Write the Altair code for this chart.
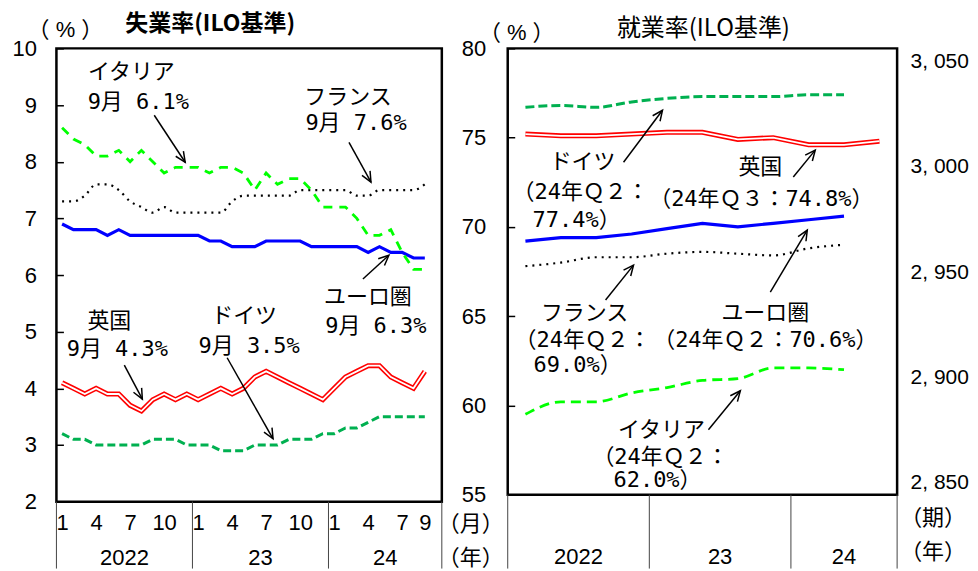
import math
import altair as alt
import pandas as pd

# ---------------- data ----------------
# Left panel: unemployment rate (ILO), monthly Jan 2022 .. Sep 2024
month_index = list(range(33))
month_ticks = [0, 3, 6, 9, 12, 15, 18, 21, 24, 27, 30, 32]
u_ea = [6.9, 6.8, 6.8, 6.8, 6.7, 6.8, 6.7, 6.7, 6.7, 6.7, 6.7, 6.7, 6.7, 6.6, 6.6, 6.5, 6.5,
        6.5, 6.6, 6.6, 6.6, 6.6, 6.5, 6.5, 6.5, 6.5, 6.5, 6.4, 6.5, 6.4, 6.4, 6.3, 6.3]
u_fr = [7.3, 7.3, 7.4, 7.6, 7.6, 7.5, 7.3, 7.2, 7.1, 7.2, 7.1, 7.1, 7.1, 7.1, 7.1, 7.3, 7.4,
        7.4, 7.4, 7.4, 7.4, 7.5, 7.5, 7.5, 7.5, 7.5, 7.4, 7.4, 7.5, 7.5, 7.5, 7.5, 7.6]
u_it = [8.6, 8.4, 8.3, 8.1, 8.1, 8.2, 8.0, 8.2, 8.0, 7.8, 7.9, 7.9, 7.9, 7.8, 7.9, 7.9, 7.8,
        7.5, 7.8, 7.6, 7.7, 7.7, 7.5, 7.2, 7.2, 7.2, 7.0, 6.7, 6.7, 6.8, 6.4, 6.1, 6.1]
u_de = [3.2, 3.1, 3.1, 3.0, 3.0, 3.0, 3.0, 3.0, 3.1, 3.1, 3.1, 3.0, 3.0, 3.0, 2.9, 2.9, 2.9,
        3.0, 3.0, 3.0, 3.1, 3.1, 3.1, 3.2, 3.2, 3.3, 3.3, 3.4, 3.5, 3.5, 3.5, 3.5, 3.5]
u_uk = [4.1, 4.0, 3.9, 4.0, 3.9, 3.9, 3.7, 3.6, 3.8, 3.9, 3.8, 3.9, 3.8, 3.9, 4.0, 3.9, 4.0,
        4.2, 4.3, 4.2, 4.1, 4.0, 3.9, 3.8, 4.0, 4.2, 4.3, 4.4, 4.4, 4.2, 4.1, 4.0, 4.3]
left_y_ticks = [2, 3, 4, 5, 6, 7, 8, 9, 10]
left_year_mid = [5.5, 17.5, 28.5]
left_year_edges = [-0.5, 11.5, 23.5, 33.5]
year_names = ["2022", "23", "24"]

# Right panel: employment rate (ILO), quarterly 2022Q1 .. 2024Q3
quarter_index = list(range(11))
e_de = [76.7, 76.8, 76.7, 77.0, 77.2, 77.3, 77.3, 77.3, 77.4, 77.4]
e_uk = [75.2, 75.1, 75.1, 75.2, 75.3, 75.3, 74.9, 75.0, 74.6, 74.6, 74.8]
e_ea = [69.2, 69.4, 69.4, 69.6, 69.9, 70.2, 70.0, 70.2, 70.4, 70.6]
e_fr = [67.8, 68.0, 68.3, 68.3, 68.5, 68.6, 68.5, 68.4, 68.8, 69.0]
e_it = [59.5, 60.2, 60.2, 60.7, 61.0, 61.4, 61.5, 62.1, 62.1, 62.0]
right_y_ticks = [55, 60, 65, 70, 75, 80]
right_axis_values = [2850, 2900, 2950, 3000, 3050]
right_year_mid = [1.5, 5.5, 9.0]
right_year_edges = [-0.5, 3.5, 7.5, 10.5]

# Annotations (data units)
left_ann_text = ["イタリア", "9月 6.1%", "フランス", "9月 7.6%", "ユーロ圏", "9月 6.3%",
                 "英国", "9月 4.3%", "ドイツ", "9月 3.5%"]
left_ann_x = [6.11, 6.72, 25.22, 25.93, 26.98, 27.68, 4.17, 4.87, 16.06, 16.50]
left_ann_y = [9.58, 9.05, 9.15, 8.68, 5.61, 5.10, 5.19, 4.70, 5.28, 4.75]
left_arrow_x1 = [8.13, 25.31, 26.54, 5.49, 14.56]
left_arrow_y1 = [8.82, 8.34, 5.93, 4.41, 4.54]
left_arrow_x2 = [10.86, 27.25, 28.83, 7.08, 18.61]
left_arrow_y2 = [7.99, 7.64, 6.35, 3.81, 3.11]

right_ann_text = ["ドイツ", "（24年Ｑ２：", "77.4%）", "英国", "（24年Ｑ３：74.8%）",
                  "フランス", "（24年Ｑ２：", "69.0%）", "ユーロ圏", "（24年Ｑ２：70.6%）",
                  "イタリア", "（24年Ｑ２：", "62.0%）"]
right_ann_x = [1.615, 1.559, 1.446, 6.636, 6.664, 1.672, 1.615, 1.474, 6.777, 6.777,
               3.844, 3.815, 3.731]
right_ann_y = [73.62, 71.95, 70.38, 73.34, 71.55, 65.18, 63.67, 62.27, 65.18, 63.67,
               58.64, 57.13, 55.84]
right_arrow_x1 = [2.772, 7.567, 2.264, 6.918, 5.17]
right_arrow_y1 = [73.62, 72.79, 65.91, 66.35, 58.64]
right_arrow_x2 = [3.872, 8.187, 3.054, 7.962, 6.072]
right_arrow_y2 = [76.53, 74.30, 67.86, 69.82, 60.82]

# ---------------- styling ----------------
JP = "Noto Sans CJK JP"
LAT = "Liberation Sans"
ANN = "DejaVu Sans Mono, Noto Sans CJK JP"
BLUE, RED, BLACK = "#0000FF", "#FF0000", "#000000"
LIME, GREEN = "#00FF00", "#00B050"

LW, LH = 386, 454
RW, RH = 390, 447
L_DOM_X, L_DOM_Y = [-0.5, 33.5], [2, 10]
R_DOM_X, R_DOM_Y = [-0.5, 10.5], [55, 80]

lx_scale = alt.Scale(domain=L_DOM_X, nice=False, zero=False)
ly_scale = alt.Scale(domain=L_DOM_Y, nice=False, zero=False)
rx_scale = alt.Scale(domain=R_DOM_X, nice=False, zero=False)
ry_scale = alt.Scale(domain=R_DOM_Y, nice=False, zero=False)

lx_axis = alt.Axis(values=month_ticks, labelExpr="(datum.value % 12) + 1", ticks=False,
                   domain=False, grid=False, labelFont=LAT, labelFontSize=22,
                   labelColor=BLACK, labelPadding=11, labelFlush=False,
                   labelOverlap=False, title=None)
ly_axis = alt.Axis(values=left_y_ticks, offset=-7, tickSize=7, tickColor=BLACK,
                   tickWidth=1.5, domain=False, grid=False, labelFont=LAT,
                   labelFontSize=22, labelColor=BLACK, labelPadding=20,
                   labelOverlap=False, title=None)
ry_axis = alt.Axis(values=right_y_ticks, offset=-7, tickSize=7, tickColor=BLACK,
                   tickWidth=1.5, domain=False, grid=False, labelFont=LAT,
                   labelFontSize=22, labelColor=BLACK, labelPadding=22,
                   labelOverlap=False, title=None)


def LX(f):
    return alt.X(f"{f}:Q", scale=lx_scale, axis=lx_axis)


def LY(f):
    return alt.Y(f"{f}:Q", scale=ly_scale, axis=ly_axis)


def RX(f):
    return alt.X(f"{f}:Q", scale=rx_scale, axis=None)


def RY(f):
    return alt.Y(f"{f}:Q", scale=ry_scale, axis=ry_axis)


def series_line(xs, ys, X, Y, color, width, dash=None, interp="linear"):
    df = pd.DataFrame({"x": xs[:len(ys)], "v": ys})
    kw = dict(color=color, strokeWidth=width, interpolate=interp)
    if dash:
        kw["strokeDash"] = dash
    return alt.Chart(df).mark_line(**kw).encode(x=X("x"), y=Y("v"))


def arrows(x1, y1, x2, y2, X, Y, sx, sy):
    ang = [math.degrees(math.atan2((b - a) * sx, (d - c) * sy)) % 360
           for a, b, c, d in zip(x1, x2, y1, y2)]
    df = pd.DataFrame({"x1": x1, "y1": y1, "x2": x2, "y2": y2, "ang": ang})
    shaft = alt.Chart(df).mark_rule(color=BLACK, strokeWidth=1.5).encode(
        x=X("x1"), y=Y("y1"), x2="x2:Q", y2="y2:Q")
    head = alt.Chart(df).mark_point(shape="M-0.45,1 L0,0 L0.45,1", filled=False,
                                    stroke=BLACK, strokeWidth=1.5, opacity=1,
                                    size=420).encode(
        x=X("x2"), y=Y("y2"), angle=alt.Angle("ang:Q", scale=None))
    return shaft + head


def ann_text(texts, xs, ys, X, Y, size=22):
    df = pd.DataFrame({"t": texts, "x": xs, "y": ys})
    return alt.Chart(df).mark_text(font=ANN, fontSize=size, color=BLACK,
                                   align="center", baseline="middle").encode(
        x=X("x"), y=Y("y"), text="t:N")


def free_text(t, px, py, size=22, font=JP, weight="normal"):
    return alt.Chart(pd.DataFrame({"t": [t]})).mark_text(
        font=font, fontSize=size, fontWeight=weight, color=BLACK,
        align="center", baseline="middle").encode(
        text="t:N", x=alt.value(px), y=alt.value(py))


def separators(edges, X, h, bottom):
    df = pd.DataFrame({"e": edges})
    return alt.Chart(df).mark_rule(color="#444444", strokeWidth=1).encode(
        x=X("e"), y=alt.value(h), y2=alt.value(bottom))


def year_labels(mids, X, py):
    df = pd.DataFrame({"m": mids, "t": year_names})
    return alt.Chart(df).mark_text(font=LAT, fontSize=22, color=BLACK,
                                   baseline="middle").encode(
        x=X("m"), y=alt.value(py), text="t:N")


# ---------------- left panel ----------------
lsx = LW / (L_DOM_X[1] - L_DOM_X[0])
lsy = LH / (L_DOM_Y[1] - L_DOM_Y[0])
left = alt.layer(
    separators(left_year_edges, LX, LH, 521),
    year_labels(left_year_mid, LX, 510),
    series_line(month_index, u_fr, LX, LY, BLACK, 2.2, [2, 5], "monotone"),
    series_line(month_index, u_ea, LX, LY, BLUE, 3.2),
    series_line(month_index, u_it, LX, LY, LIME, 2.8, [9, 7]),
    series_line(month_index, u_de, LX, LY, GREEN, 3, [8, 4]),
    series_line(month_index, u_uk, LX, LY, RED, 5),
    series_line(month_index, u_uk, LX, LY, "#FFFFFF", 1.8),
    arrows(left_arrow_x1, left_arrow_y1, left_arrow_x2, left_arrow_y2, LX, LY, lsx, lsy),
    ann_text(left_ann_text, left_ann_x, left_ann_y, LX, LY),
    free_text("失業率(ILO基準)", 154, -24, 23, JP, "bold"),
    free_text("（ % ）", 9, -18, 22, "Liberation Sans, Noto Sans CJK JP"),
    free_text("（月）", 415, 476, 22),
    free_text("（年）", 415, 510, 22),
).properties(width=LW, height=LH)

# ---------------- right panel ----------------
rsx = RW / (R_DOM_X[1] - R_DOM_X[0])
rsy = RH / (R_DOM_Y[1] - R_DOM_Y[0])
right_main = alt.layer(
    separators(right_year_edges, RX, RH, 521),
    year_labels(right_year_mid, RX, 509),
    series_line(quarter_index, e_fr, RX, RY, BLACK, 2.2, [2, 5], "monotone"),
    series_line(quarter_index, e_ea, RX, RY, BLUE, 3.2),
    series_line(quarter_index, e_it, RX, RY, LIME, 2.8, [10, 6], "monotone"),
    series_line(quarter_index, e_de, RX, RY, GREEN, 3, [9, 4], "monotone"),
    series_line(quarter_index, e_uk, RX, RY, RED, 5),
    series_line(quarter_index, e_uk, RX, RY, "#FFFFFF", 1.8),
    arrows(right_arrow_x1, right_arrow_y1, right_arrow_x2, right_arrow_y2, RX, RY, rsx, rsy),
    ann_text(right_ann_text, right_ann_x, right_ann_y, RX, RY),
    free_text("就業率(ILO基準)", 196, -19, 24, JP),
    free_text("（ % ）", 9, -15, 22, "Liberation Sans, Noto Sans CJK JP"),
    free_text("（期）", 426, 470, 22),
    free_text("（年）", 426, 504, 22),
)

right_axis = alt.Chart(pd.DataFrame({"v": right_axis_values})).mark_point(opacity=0).encode(
    y=alt.Y("v:Q", scale=alt.Scale(domain=[2844.31, 3056.16], nice=False, zero=False),
            axis=alt.Axis(orient="right", values=right_axis_values, ticks=False,
                          domain=False, grid=False, labelFont=LAT, labelFontSize=21,
                          labelColor=BLACK, labelPadding=13, labelOverlap=False,
                          labelExpr="replace(format(datum.value, ','), ',', ', ')",
                          title=None))
)

right = alt.layer(right_main, right_axis).resolve_scale(y="independent").properties(
    width=RW, height=RH)

chart = alt.hconcat(left, right, spacing=66, bounds="flush").properties(
    padding={"left": 2.5, "top": 3, "right": 0, "bottom": 0}
).configure_view(stroke=BLACK, strokeWidth=2.5)

chart.save("out.html", embed_options={"renderer": "svg", "actions": False})
